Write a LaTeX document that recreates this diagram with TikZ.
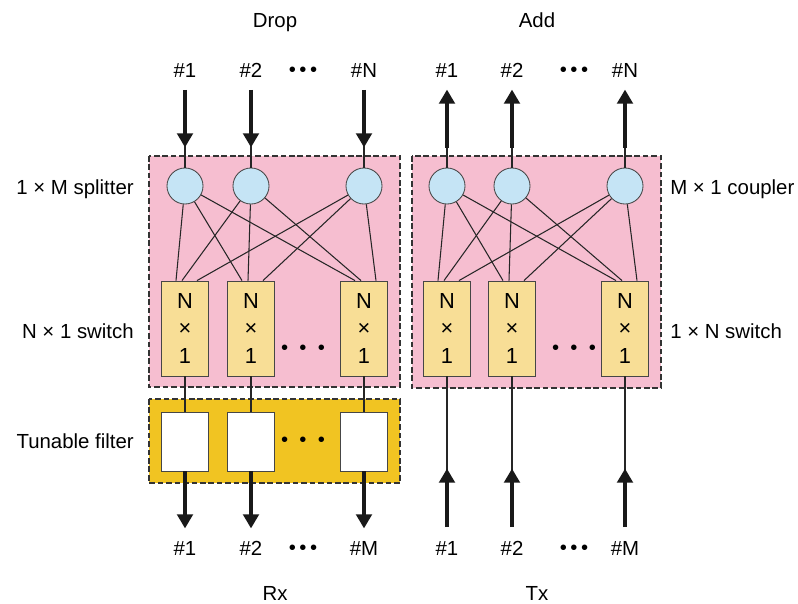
\documentclass[tikz,border=0pt]{standalone}
\usepackage{fontspec}
\setmainfont{Liberation Sans}
\usepackage{tikz}
\usetikzlibrary{arrows.meta,positioning,calc}
\definecolor{stagePink}{RGB}{246,190,208}
\definecolor{splitBlue}{RGB}{197,228,245}
\definecolor{switchYellow}{RGB}{248,222,150}
\definecolor{filterGold}{RGB}{241,196,34}
\definecolor{edgeGray}{RGB}{70,70,70}
\newcommand{\dotrow}[1]{{\Large\textbullet}\hspace{#1}{\Large\textbullet}\hspace{#1}{\Large\textbullet}}

\begin{document}
\begin{tikzpicture}[x=0.025cm, y=-0.025cm,
    font=\fontsize{14.5}{17.5}\selectfont,
    stagebox/.style={draw=black!80, line width=0.85pt, dash pattern=on 4pt off 2pt},
    coupler/.style={circle, draw=edgeGray, line width=0.6pt, fill=splitBlue,
        minimum size=0.9cm, inner sep=0pt},
    switchbox/.style={rectangle, draw=edgeGray, line width=0.6pt, fill=switchYellow,
        minimum width=1.175cm, minimum height=2.375cm, align=center, inner sep=0pt,
        font=\fontsize{15.5}{17.5}\selectfont},
    filterbox/.style={rectangle, draw=edgeGray, line width=0.6pt, fill=white,
        minimum width=1.175cm, minimum height=1.475cm, inner sep=0pt},
    fiber/.style={draw=black!85, line width=0.75pt},
    fat/.style={draw=black!90, line width=3pt,
        -{Triangle[width=11pt, length=10pt]}, shorten >=-1pt},
    lbl/.style={anchor=base, inner sep=0pt}
]
\useasboundingbox (0,0) rectangle (798,604);

% stage backgrounds
\draw[stagebox, fill=stagePink] (149,156) rectangle (400,387);
\draw[stagebox, fill=stagePink] (412,156) rectangle (661,388);
\draw[stagebox, fill=filterGold] (149,399) rectangle (400,483);

% drop side
\foreach \i/\x in {1/185, 2/251, 3/364} {
    \node[coupler] (ds\i) at (\x,186) {};
    \node[switchbox] (dw\i) at (\x,328.5) {N\\[2pt]×\\[2pt]1};
    \node[filterbox] (df\i) at (\x,441.5) {};
    \coordinate (dtop\i) at (\x,90);
    \coordinate (dtip\i) at (\x,146);
    \coordinate (dout\i) at (\x,527);
    \draw[fat] (dtop\i) -- (dtip\i);
    \draw[fiber] (dtip\i) -- (ds\i);
    \draw[fiber] (dw\i) -- (df\i);
    \draw[fat] (df\i.south) -- (dout\i);
}
\foreach \i/\o in {1/-9, 2/-3, 3/12}
    \foreach \j in {1,2,3}
        \draw[fiber] (ds\i) -- ($(dw\j.north)+(\o,0)$);

% add side
\foreach \i/\x in {1/447, 2/512, 3/625} {
    \node[coupler] (as\i) at (\x,186) {};
    \node[switchbox] (aw\i) at (\x,328.5) {N\\[2pt]×\\[2pt]1};
    \coordinate (atop\i) at (\x,91);
    \coordinate (abase\i) at (\x,148);
    \coordinate (ain\i) at (\x,527);
    \coordinate (atip\i) at (\x,470);
    \draw[fiber] (as\i) -- (abase\i);
    \draw[fat] (abase\i) -- (atop\i);
    \draw[fiber] (aw\i) -- (atip\i);
    \draw[fat] (ain\i) -- (atip\i);
}
\foreach \i/\o in {1/-9, 2/-3, 3/12}
    \foreach \j in {1,2,3}
        \draw[fiber] (as\i) -- ($(aw\j.north)+(\o,0)$);

% ellipses
\node (ddots) at (303,350) {\dotrow{8pt}};
\node (fdots) at (303,442) {\dotrow{8pt}};
\node (adots) at (574,350) {\dotrow{8pt}};

% port labels
\node[lbl] (drop) at (275,27.5) {Drop};
\node[lbl] (add) at (537,27.5) {Add};
\node[lbl] (rx) at (275,600.5) {Rx};
\node[lbl] (tx) at (537,600.5) {Tx};
\foreach \x/\t in {185/\#1, 251/\#2, 364/\#N, 447/\#1, 512/\#2, 625/\#N}
    \node[lbl] at (\x,77.5) {\t};
\foreach \x/\t in {185/\#1, 251/\#2, 364/\#M, 447/\#1, 512/\#2, 625/\#M}
    \node[lbl] at (\x,555.5) {\t};
\foreach \x in {303, 574} {
    \node at (\x,72) {\dotrow{2.5pt}};
    \node at (\x,550) {\dotrow{2.5pt}};
}

% stage labels
\node[lbl, anchor=base east] (splitlbl) at (134,194.5) {1 × M splitter};
\node[lbl, anchor=base east] (dswlbl) at (134,338.5) {N × 1 switch};
\node[lbl, anchor=base east] (filtlbl) at (134,448.5) {Tunable filter};
\node[lbl, anchor=base west] (couplbl) at (670,194.5) {M × 1 coupler};
\node[lbl, anchor=base west] (aswlbl) at (670,338.5) {1 × N switch};
\end{tikzpicture}
\end{document}
